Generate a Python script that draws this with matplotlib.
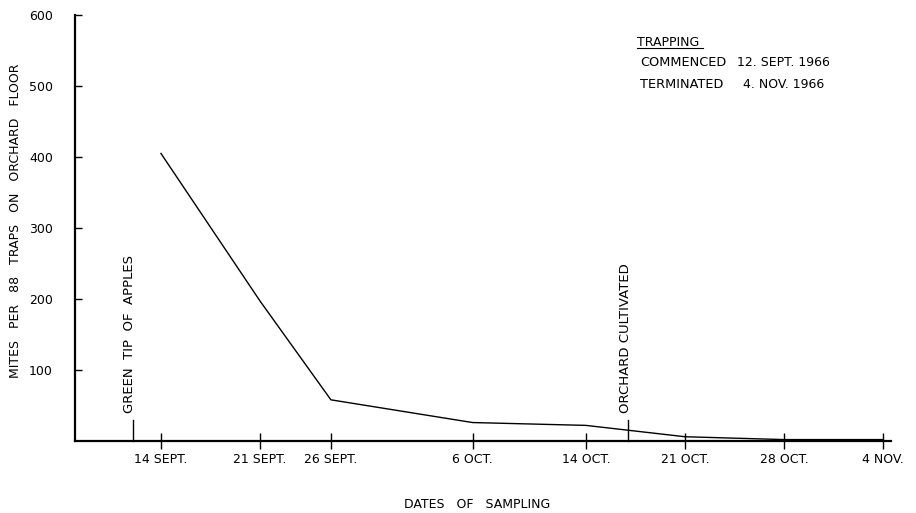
import matplotlib
matplotlib.use("Agg")
import matplotlib.pyplot as plt
from matplotlib.lines import Line2D

# ---- data (x = day counted from 1 Sept. 1966) ----
sample_days = [14, 21, 26, 36, 44, 51, 58, 65]
sample_labels = ["14 SEPT.", "21 SEPT.", "26 SEPT.", "6 OCT.", "14 OCT.",
                 "21 OCT.", "28 OCT.", "4 NOV."]
mites = [405, 197, 58, 26, 22, 6, 2, 2]
y_ticks = [100, 200, 300, 400, 500, 600]

event_days = [12, 47]
event_labels = ["GREEN  TIP  OF  APPLES", "ORCHARD CULTIVATED"]
event_height = 30

W, H = 916, 513
fig = plt.figure(figsize=(W / 100, H / 100), dpi=100)
plt.rcParams['font.family'] = ['DejaVu Sans']

def px(x, y):
    return x / W, 1 - y / H

ax_w = 891 - 75
ax = fig.add_axes([75 / W, (H - 441) / H, ax_w / W, 426 / H])
ax.plot(sample_days, mites, color='black', lw=1.0)
ax.set_xlim(7.93, 65.55)
ax.set_ylim(0, 600)

for s in ['top', 'right']:
    ax.spines[s].set_visible(False)
for s in ['left', 'bottom']:
    ax.spines[s].set_linewidth(1.6)

ax.set_xticks(sample_days)
ax.set_xticklabels(sample_labels, fontsize=9)
ax.tick_params(axis='x', direction='inout', length=11, width=1.0, pad=3)
ax.set_yticks(y_ticks)
ax.set_yticklabels([str(v) for v in y_ticks], fontsize=9)
ax.tick_params(axis='y', direction='in', length=5, width=1.0, pad=16)

# event markers
for d, lab in zip(event_days, event_labels):
    ax.plot([d, d], [0, event_height], color='black', lw=1.0, clip_on=False)
    ax.text(d - 0.2, event_height + 9, lab, rotation=90, ha='center',
            va='bottom', fontsize=9.5)

ax.set_ylabel("MITES   PER   88   TRAPS   ON   ORCHARD   FLOOR", fontsize=9)
ax.yaxis.set_label_coords(-(75 - 22) / ax_w, 0.516)
fig.text(*px(477, 504), "DATES   OF   SAMPLING", ha='center', va='center',
         fontsize=9)

# trapping note
fig.text(*px(637, 42), "TRAPPING", ha='left', va='center', fontsize=9)
fig.add_artist(Line2D([637 / W, 703 / W], [1 - 48 / H, 1 - 48 / H],
                      color='black', lw=0.8))
fig.text(*px(640, 63), "COMMENCED", ha='left', va='center', fontsize=9.3)
fig.text(*px(737, 63), "12. SEPT. 1966", ha='left', va='center', fontsize=9)
fig.text(*px(640, 84), "TERMINATED", ha='left', va='center', fontsize=9.3)
fig.text(*px(743, 84), "4. NOV. 1966", ha='left', va='center', fontsize=9)

fig.savefig("out.png", dpi=100)
